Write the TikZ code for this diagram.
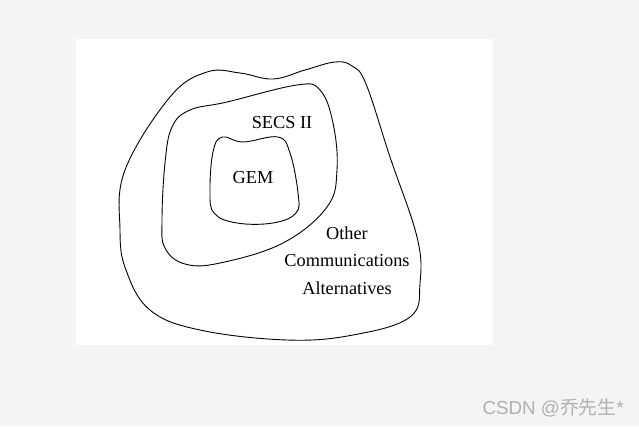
\documentclass[tikz,border=0pt]{standalone}
\usepackage{fontspec}
\setmainfont{Liberation Serif}
\newfontfamily\cjkfont{Noto Sans CJK SC}
\definecolor{pagebg}{HTML}{F4F4F4}
\definecolor{wmark}{HTML}{B0B0B0}
\begin{document}
\begin{tikzpicture}[x=1pt,y=-1pt,
  blob/.style={draw=black,line width=0.9pt,smooth cycle,tension=0.65},
  lbl/.style={font=\fontsize{18.3}{21}\selectfont,inner sep=0pt}]
\useasboundingbox (0,0) rectangle (639,426);
\fill[pagebg] (0,0) rectangle (639,426);
\fill[white] (76,39) rectangle (493,345);
% outer
\draw[blob] plot coordinates {(207,72) (240,73) (273,79) (305,70) (335,62) (352,66) (366,84) (390,157) (417,237) (420,283) (410,317) (353,335) (287,340) (200,330) (150,310) (126,270) (120,230) (125,170) (170,97)};
% middle
\draw[blob] plot coordinates {(190,110) (227,102) (297,85) (320,90) (333,123) (337,170) (327,207) (283,243) (220,263) (185,264) (165,248) (162,220) (165,163) (172,127)};
% inner
\draw[blob] plot coordinates {(222,137) (243,142) (278,137) (290,153) (298,193) (296,213) (273,223) (237,223) (214,213) (210,190) (213,152)};
\node[lbl] (secs) at (282,123) {SECS II};
\node[lbl] (gem) at (253,178) {GEM};
\node[lbl] (other) at (347,233) {Other};
\node[lbl] (comm) at (347,261) {Communications};
\node[lbl] (alt) at (347,288) {Alternatives};
\node[font=\fontsize{18.8}{22}\selectfont,text=wmark,anchor=east,inner sep=0pt] (wm) at (624,408) {\fontspec{Liberation Sans}CSDN @{\cjkfont 乔先生}*};
\end{tikzpicture}
\end{document}
